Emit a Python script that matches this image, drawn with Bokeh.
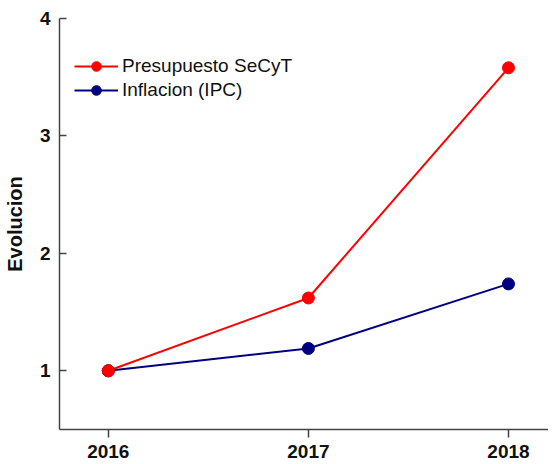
from bokeh.plotting import figure
from bokeh.models import Range1d, FixedTicker, Legend, LegendItem
from bokeh.embed import file_html
from bokeh.resources import INLINE

years = [2016, 2017, 2018]
presupuesto = [1.0, 1.62, 3.58]
inflacion = [1.0, 1.19, 1.74]
x_ticks = [2016, 2017, 2018]
y_ticks = [1, 2, 3, 4]

RED = "#ff0000"
NAVY = "#000080"
FONT = "Liberation Sans"

p = figure(width=548, height=464, output_backend="svg", toolbar_location=None,
           x_range=Range1d(2015.756, 2018.20), y_range=Range1d(0.5, 4.0),
           min_border_left=52, min_border_right=0, min_border_top=18, min_border_bottom=35)
p.outline_line_color = None
p.grid.grid_line_color = None
p.background_fill_color = "white"

r1 = p.line(years, presupuesto, line_color=RED, line_width=2)
c1 = p.scatter(years, presupuesto, size=12, fill_color=RED, line_color=RED)
r2 = p.line(years, inflacion, line_color=NAVY, line_width=2)
c2 = p.scatter(years, inflacion, size=12, fill_color=NAVY, line_color=NAVY)
# first red point drawn on top (as in reference)
p.scatter(years[:1], presupuesto[:1], size=12, fill_color=RED, line_color=RED)

for ax in (p.xaxis[0], p.yaxis[0]):
    ax.axis_line_color = "#444444"
    ax.axis_line_width = 1.5
    ax.major_tick_line_color = "#444444"
    ax.major_tick_line_width = 1.5
    ax.minor_tick_line_color = None
    ax.major_label_text_font = FONT
    ax.major_label_text_font_style = "bold"
    ax.major_label_text_font_size = "19px"
    ax.major_label_text_color = "#111111"

p.xaxis.ticker = FixedTicker(ticks=x_ticks)
p.xaxis.major_tick_out = 8
p.xaxis.major_tick_in = 0
p.xaxis.major_label_standoff = 7

p.yaxis.ticker = FixedTicker(ticks=y_ticks)
p.yaxis.major_tick_out = 0
p.yaxis.major_tick_in = 7
p.yaxis.major_label_standoff = 9
p.yaxis.axis_label = "Evolucion"
p.yaxis.axis_label_text_font = FONT
p.yaxis.axis_label_text_font_style = "bold"
p.yaxis.axis_label_text_font_size = "20px"
p.yaxis.axis_label_text_color = "#111111"
p.yaxis.axis_label_standoff = 11

legend = Legend(items=[
    LegendItem(label="Presupuesto SeCyT", renderers=[r1, c1]),
    LegendItem(label="Inflacion (IPC)", renderers=[r2, c2]),
], location=(15, 327), margin=0, padding=0, spacing=0,
    glyph_width=44, glyph_height=24, label_standoff=4, label_height=24,
    label_text_font=FONT, label_text_font_size="19px", label_text_color="#111111",
    border_line_alpha=0, background_fill_alpha=0)
p.add_layout(legend)

open("out.html", "w").write(file_html(p, INLINE))
